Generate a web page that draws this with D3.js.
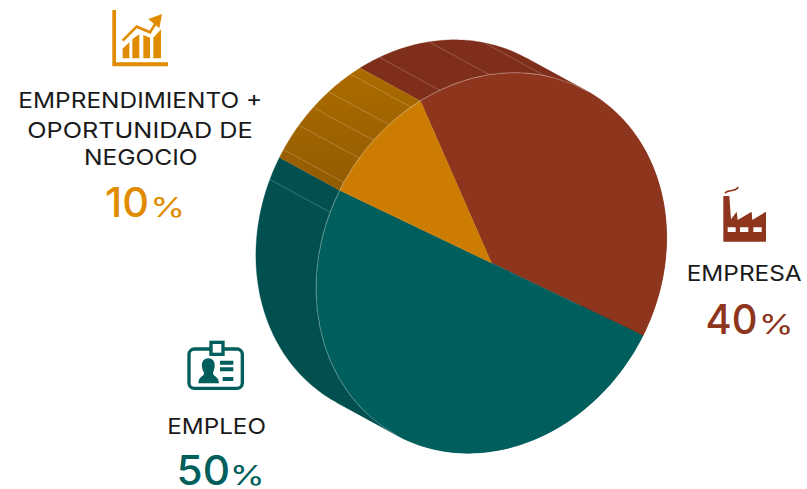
<!DOCTYPE html>
<html>
<head>
<meta charset="utf-8">
<script src="https://cdn.jsdelivr.net/npm/d3@7"></script>
<style>
  body { margin: 0; background: #fff; }
  svg { display: block; }
  text { font-family: Inter, "Open Sans", sans-serif; }
</style>
</head>
<body>
<svg></svg>
<script>
//chart values
const categories = ['EMPRESA', 'EMPLEO', 'EMPRENDIMIENTO + OPORTUNIDAD DE NEGOCIO'];
const shares = [40, 50, 10];
const topColors = ['#8e351e', '#005e5c', '#cc7c00'];
const wallColors = ['#7e2e1a', '#01504f', 'url(#wallOrange)'];
const labelColors = ['#8e351e', '#005e5c', '#e08b00'];

//degrees round the pie where the pale facet lines of the wall sit
const facetAngles = [6.8, 23.3, 41.6, 317, 326.6, 335, 341.7, 348.2, 356.6];

const width = 807;
const height = 489;

//tilted disc: unit circle -> screen, plus the push back for the wall
const discMatrix = [160.1, -99.6, 71, 162, 491.5, 263];
const depth = [-60.5, -33];

let svg = d3.select('svg').attr('width', width).attr('height', height);

let defs = svg.append('defs');
let grad = defs.append('linearGradient')
    .attr('id', 'wallOrange')
    .attr('gradientUnits', 'userSpaceOnUse')
    .attr('x1', 0).attr('y1', 70).attr('x2', 0).attr('y2', 190);
grad.append('stop').attr('offset', 0).attr('stop-color', '#ad6b00');
grad.append('stop').attr('offset', 1).attr('stop-color', '#925b00');

//project a pie angle (radians, 0 at top, clockwise) on to the disc rim
let rim = (a) => {
    let x = Math.sin(a);
    let y = -Math.cos(a);
    let m = discMatrix;
    return [m[0] * x + m[2] * y + m[4], m[1] * x + m[3] * y + m[5]];
};

//angle where the rim runs parallel to the wall depth, the silhouette sits there
let m = discMatrix;
let crossA = m[0] * depth[1] - m[1] * depth[0];
let crossB = m[2] * depth[1] - m[3] * depth[0];
let tangent = Math.atan2(-crossA, crossB);
tangent = ((tangent % Math.PI) + Math.PI) % Math.PI;
let tangents = [tangent, tangent + Math.PI];

let slices = d3.pie().sort(null).value(d => d)(shares);

//a slice wall is cut at the tangents so each piece closes along the silhouette
let wallPieces = (s, i) => {
    let cuts = [s.startAngle, ...tangents.filter(t => t > s.startAngle && t < s.endAngle), s.endAngle];
    return d3.pairs(cuts).map(c => ({ from: c[0], to: c[1], color: wallColors[i] }));
};

let wallPath = (p) => {
    let angles = d3.range(0, 81).map(i => p.from + (p.to - p.from) * i / 80);
    let front = angles.map(rim);
    let back = front.slice().reverse().map(q => [q[0] + depth[0], q[1] + depth[1]]);
    return d3.line()(front.concat(back)) + 'Z';
};

//walls first, the top goes over them
svg.append('g').selectAll('path')
    .data(slices.flatMap(wallPieces))
    .join('path')
    .attr('d', wallPath)
    .attr('fill', d => d.color)
    .attr('stroke', d => d.color)
    .attr('stroke-width', 0.3);

svg.append('g').selectAll('line')
    .data(facetAngles)
    .join('line')
    .attr('x1', d => rim(d * Math.PI / 180)[0])
    .attr('y1', d => rim(d * Math.PI / 180)[1])
    .attr('x2', d => rim(d * Math.PI / 180)[0] + depth[0])
    .attr('y2', d => rim(d * Math.PI / 180)[1] + depth[1])
    .attr('stroke', '#fff')
    .attr('stroke-opacity', 0.3)
    .attr('stroke-width', 0.7);

//top face, arc of radius 100 squeezed through the matrix
let arc = d3.arc().innerRadius(0).outerRadius(100);
let topFace = svg.append('g')
    .attr('transform', `matrix(${m[0] / 100},${m[1] / 100},${m[2] / 100},${m[3] / 100},${m[4]},${m[5]})`);

topFace.selectAll('path.slice')
    .data(slices)
    .join('path')
    .attr('class', 'slice')
    .attr('d', arc)
    .attr('fill', (d, i) => topColors[i])
    .attr('stroke', (d, i) => topColors[i])
    .attr('stroke-width', 0.15);

//pale rim where the top meets the wall, tangent point to tangent point
topFace.append('path')
    .attr('d', d3.arc().innerRadius(100).outerRadius(100)({ startAngle: tangents[1], endAngle: tangents[0] + 2 * Math.PI }))
    .attr('fill', 'none')
    .attr('stroke', '#fff')
    .attr('stroke-opacity', 0.25)
    .attr('stroke-width', 0.6)
    .attr('vector-effect', 'non-scaling-stroke');

//labels, stretched to the wide look of the reference's lettering
let labels = [
    {
        lines: [['EMPRENDIMIENTO +', 18.3, 244, 108.3], ['OPORTUNIDAD DE', 27.3, 225.5, 137.5], ['NEGOCIO', 84, 113.7, 165]],
        pct: 2, num: [105, 44], sign: [150.3, 35], base: 216.7
    },
    {
        lines: [['EMPRESA', 686.7, 115, 281]],
        pct: 0, num: [705.5, 52], sign: [758.7, 35], base: 334.3
    },
    {
        lines: [['EMPLEO', 167.3, 98.7, 434]],
        pct: 1, num: [176.5, 53.5], sign: [229.7, 35], base: 485
    }
];

let stretched = (txt, x, w, y, size, weight, color) => {
    let t = svg.append('text')
        .attr('font-size', size)
        .attr('font-weight', weight)
        .attr('fill', color)
        .text(txt);
    let natural = t.node().getComputedTextLength();
    t.attr('transform', `translate(${x},${y}) scale(${w / natural},1)`);
};

labels.forEach(l => {
    l.lines.forEach(t => stretched(t[0], t[1], t[2], t[3], 22, 400, '#1a1a1a'));
    stretched(shares[l.pct], l.num[0], l.num[1], l.base, 41, 500, labelColors[l.pct]);
    stretched('%', l.sign[0], l.sign[1], l.base, 27.5, 400, labelColors[l.pct]);
});

//icons, drawn in 3x coordinates like the crops they were read from
let icon = (x, y) => svg.append('g').attr('transform', `translate(${x},${y}) scale(${1 / 3})`);

let bars = icon(100, 0).attr('fill', '#e08b00');
bars.append('path')
    .attr('d', 'M37 30H48V187H204V199H37Z');
bars.append('path')
    .attr('d', 'M68 146L88 127V175H68ZM97 117L118 103V175H97ZM130 105L150 113V175H130ZM160 113L183 88V175H160Z');
bars.append('path')
    .attr('d', 'M68 122L110 80L150 97L170 65')
    .attr('fill', 'none')
    .attr('stroke', '#e08b00')
    .attr('stroke-width', 8);
bars.append('path')
    .attr('d', 'M145 57L186 42L178 85Z');

let factory = icon(710, 180).attr('fill', '#8e351e');
factory.append('path')
    .attr('d', 'M40 48H58L63 118L80 95L83 120L125 95L127 120L168 95V185H40Z');
factory.append('path')
    .attr('d', 'M53 142H77V156H53ZM90 142H115V156H90ZM130 142H155V156H130Z')
    .attr('fill', '#fff');
factory.append('path')
    .attr('d', 'M45 40C55 25 70 40 85 22')
    .attr('fill', 'none')
    .attr('stroke', '#8e351e')
    .attr('stroke-width', 5);

let badge = icon(180, 335).attr('fill', '#005e5c');
badge.append('rect')
    .attr('x', 27).attr('y', 42).attr('width', 160).attr('height', 118).attr('rx', 16)
    .attr('fill', 'none')
    .attr('stroke', '#005e5c')
    .attr('stroke-width', 10);
badge.append('rect')
    .attr('x', 93).attr('y', 22).attr('width', 36).attr('height', 36)
    .attr('fill', '#fff')
    .attr('stroke', '#005e5c')
    .attr('stroke-width', 10);
badge.append('path')
    .attr('d', 'M85 70C99 70 106 82 104 96C103 106 98 112 99 116C102 124 116 124 117 145H55C56 124 70 124 72 116C73 112 67 106 66 96C64 82 71 70 85 70Z');
badge.append('path')
    .attr('d', 'M120 77H160V89H120ZM120 97H160V109H120ZM128 126H160V138H128Z');
</script>
</body>
</html>
